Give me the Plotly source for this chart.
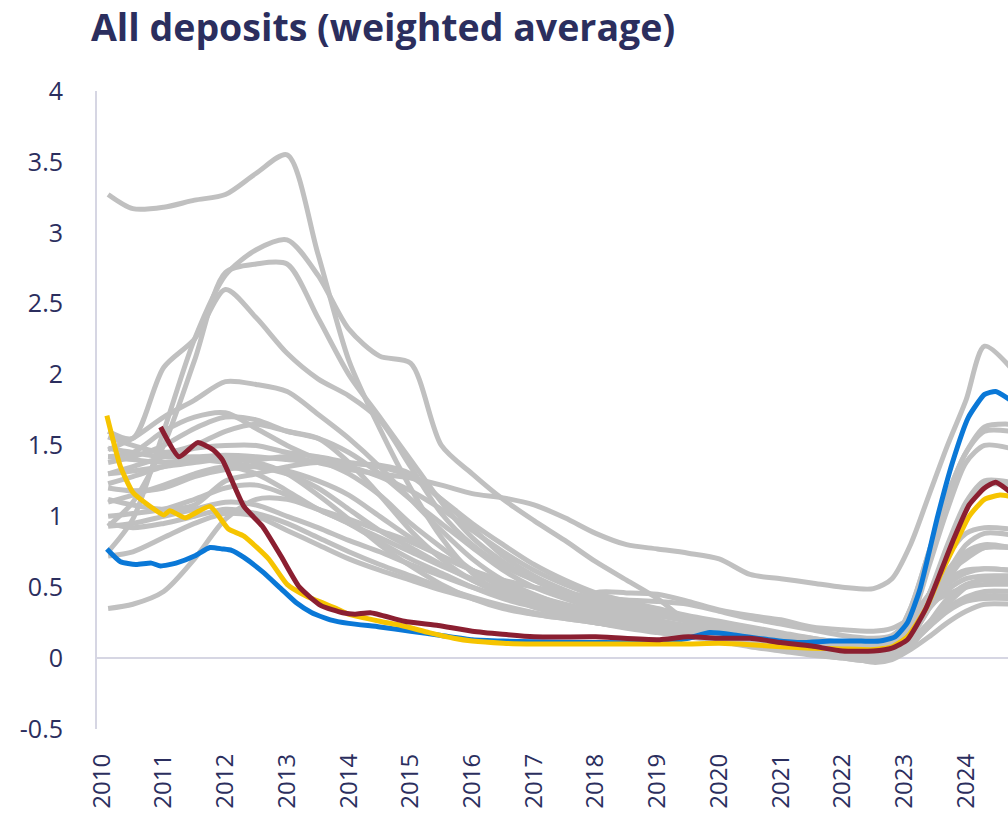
import plotly.graph_objects as go

# Time grid (decimal years) for the grey peer series
T_GREY = [2010.1, 2010.5, 2011.0, 2011.5, 2012.0, 2012.5, 2013.0, 2013.5, 2014.0, 2014.5,
          2015.0, 2015.5, 2016.0, 2016.5, 2017.0, 2017.5, 2018.0, 2018.5, 2019.0, 2019.5,
          2020.0, 2020.5, 2021.0, 2021.5, 2022.0, 2022.5, 2022.8, 2023.1, 2023.4, 2023.7,
          2024.0, 2024.3, 2024.72]

GREY_SERIES = [
    [3.27, 3.17, 3.18, 3.23, 3.27, 3.42, 3.55, 2.85, 2.1, 1.62, 1.2, 0.85, 0.6, 0.45, 0.36,
     0.3, 0.25, 0.21, 0.18, 0.15, 0.12, 0.09, 0.06, 0.03, 0.0, -0.02, 0.02, 0.12, 0.25, 0.38,
     0.5, 0.56, 0.55],
    [0.75, 0.98, 1.6, 2.25, 2.7, 2.88, 2.95, 2.7, 2.32, 2.13, 2.08, 1.5, 1.3, 1.12, 0.97,
     0.83, 0.68, 0.55, 0.42, 0.25, 0.13, 0.09, 0.07, 0.05, 0.03, 0.03, 0.07, 0.25, 0.65, 1.05,
     1.38, 1.5, 1.48],
    [0.93, 1.1, 1.5, 2.1, 2.72, 2.78, 2.78, 2.4, 2.0, 1.7, 1.4, 1.1, 0.85, 0.68, 0.55,
     0.45, 0.38, 0.32, 0.27, 0.22, 0.18, 0.14, 0.11, 0.08, 0.06, 0.05, 0.07, 0.18, 0.4, 0.62,
     0.75, 0.8, 0.78],
    [1.6, 1.55, 2.05, 2.25, 2.6, 2.4, 2.15, 1.97, 1.85, 1.68, 1.35, 1.02, 0.8, 0.65, 0.55,
     0.47, 0.41, 0.36, 0.31, 0.26, 0.21, 0.17, 0.13, 0.1, 0.07, 0.06, 0.1, 0.35, 0.75, 1.15,
     1.45, 1.6, 1.6],
    [1.47, 1.55, 1.7, 1.82, 1.95, 1.93, 1.88, 1.72, 1.55, 1.35, 1.12, 0.9, 0.7, 0.55, 0.45,
     0.37, 0.31, 0.27, 0.23, 0.2, 0.16, 0.13, 0.1, 0.07, 0.05, 0.04, 0.07, 0.2, 0.45, 0.75,
     1.05, 1.22, 1.22],
    [1.42, 1.45, 1.6, 1.7, 1.73, 1.62, 1.5, 1.4, 1.3, 1.15, 0.95, 0.78, 0.62, 0.5, 0.42,
     0.35, 0.3, 0.26, 0.22, 0.18, 0.14, 0.1, 0.07, 0.05, 0.03, 0.02, 0.05, 0.15, 0.35, 0.6,
     0.8, 0.88, 0.87],
    [1.38, 1.42, 1.5, 1.62, 1.7, 1.68, 1.6, 1.55, 1.45, 1.3, 1.12, 0.95, 0.78, 0.62, 0.5,
     0.42, 0.35, 0.3, 0.25, 0.21, 0.17, 0.13, 0.1, 0.07, 0.05, 0.03, 0.06, 0.2, 0.45, 0.72,
     0.88, 0.92, 0.91],
    [1.42, 1.4, 1.38, 1.4, 1.42, 1.4, 1.42, 1.38, 1.33, 1.3, 1.27, 1.22, 1.16, 1.13, 1.08,
     0.99, 0.88, 0.8, 0.77, 0.74, 0.7, 0.59, 0.56, 0.53, 0.5, 0.49, 0.56, 0.8, 1.15, 1.5,
     1.82, 2.2, 2.05],
    [1.3, 1.35, 1.42, 1.48, 1.5, 1.5, 1.45, 1.42, 1.38, 1.35, 1.28, 1.12, 0.95, 0.8, 0.66,
     0.55, 0.46, 0.4, 0.35, 0.3, 0.26, 0.22, 0.18, 0.14, 0.11, 0.1, 0.13, 0.25, 0.42, 0.55,
     0.62, 0.63, 0.62],
    [1.23, 1.28, 1.35, 1.4, 1.38, 1.35, 1.3, 1.2, 1.05, 0.9, 0.78, 0.66, 0.55, 0.46, 0.4,
     0.35, 0.3, 0.26, 0.22, 0.18, 0.14, 0.1, 0.07, 0.04, 0.01, -0.02, 0.0, 0.08, 0.25, 0.42,
     0.52, 0.55, 0.54],
    [1.1, 1.15, 1.22, 1.3, 1.35, 1.3, 1.18, 1.05, 0.95, 0.82, 0.7, 0.6, 0.5, 0.42, 0.36,
     0.3, 0.25, 0.22, 0.19, 0.16, 0.12, 0.08, 0.05, 0.02, 0.0, -0.02, 0.01, 0.1, 0.22, 0.35,
     0.43, 0.47, 0.47],
    [1.0, 1.02, 1.05, 1.12, 1.2, 1.22, 1.15, 1.05, 0.95, 0.85, 0.75, 0.65, 0.56, 0.48, 0.42,
     0.36, 0.31, 0.27, 0.23, 0.19, 0.15, 0.11, 0.08, 0.05, 0.02, 0.0, 0.03, 0.12, 0.25, 0.35,
     0.42, 0.44, 0.44],
    [0.93, 0.95, 1.0, 1.05, 1.1, 1.08, 1.0, 0.92, 0.83, 0.75, 0.66, 0.58, 0.5, 0.43, 0.37,
     0.31, 0.27, 0.24, 0.21, 0.18, 0.15, 0.12, 0.09, 0.06, 0.03, 0.01, 0.04, 0.15, 0.35, 0.55,
     0.72, 0.78, 0.78],
    [0.72, 0.75, 0.85, 0.95, 1.02, 1.0, 0.9, 0.8, 0.7, 0.62, 0.55, 0.48, 0.42, 0.36, 0.31,
     0.28, 0.25, 0.22, 0.2, 0.17, 0.14, 0.11, 0.08, 0.05, 0.02, -0.03, -0.01, 0.06, 0.15, 0.25,
     0.33, 0.38, 0.38],
    [0.35, 0.38, 0.47, 0.7, 0.98, 1.12, 1.12, 1.05, 0.98, 0.9, 0.82, 0.72, 0.62, 0.52, 0.44,
     0.38, 0.33, 0.29, 0.26, 0.23, 0.2, 0.17, 0.14, 0.11, 0.08, 0.06, 0.08, 0.18, 0.35, 0.48,
     0.56, 0.58, 0.58],
    [1.3, 1.32, 1.35, 1.38, 1.4, 1.38, 1.3, 1.15, 0.98, 0.8, 0.65, 0.52, 0.42, 0.35, 0.31,
     0.29, 0.46, 0.46, 0.45, 0.4, 0.34, 0.3, 0.27, 0.22, 0.2, 0.19, 0.21, 0.28, 0.38, 0.45,
     0.5, 0.52, 0.52],
    [1.56, 1.5, 1.45, 1.5, 1.6, 1.65, 1.6, 1.55, 1.38, 1.15, 0.9, 0.7, 0.55, 0.45, 0.38,
     0.32, 0.27, 0.23, 0.2, 0.17, 0.14, 0.1, 0.07, 0.04, 0.02, 0.0, 0.04, 0.18, 0.45, 0.8,
     1.1, 1.25, 1.24],
    [1.48, 1.45, 1.42, 1.42, 1.43, 1.42, 1.4, 1.38, 1.37, 1.36, 1.3, 1.12, 0.92, 0.72, 0.58,
     0.48, 0.4, 0.35, 0.3, 0.26, 0.22, 0.19, 0.16, 0.13, 0.1, 0.09, 0.12, 0.35, 0.75, 1.15,
     1.45, 1.63, 1.65],
    [0.95, 0.92, 0.95, 1.0, 1.05, 1.02, 0.95, 0.85, 0.75, 0.66, 0.58, 0.5, 0.43, 0.37, 0.32,
     0.28, 0.25, 0.22, 0.19, 0.17, 0.14, 0.11, 0.08, 0.05, 0.02, 0.0, 0.02, 0.1, 0.22, 0.33,
     0.4, 0.42, 0.42],
    [1.12, 1.08, 1.05, 1.08, 1.25, 1.3, 1.35, 1.38, 1.35, 1.28, 1.18, 1.05, 0.9, 0.75, 0.62,
     0.52, 0.44, 0.38, 0.33, 0.28, 0.24, 0.2, 0.17, 0.14, 0.11, 0.1, 0.13, 0.25, 0.4, 0.52,
     0.6, 0.63, 0.62],
    [1.2, 1.18, 1.2, 1.28, 1.33, 1.35, 1.32, 1.25, 1.15, 1.0, 0.85, 0.72, 0.62, 0.55, 0.5,
     0.46, 0.43, 0.41, 0.4, 0.38, 0.33, 0.28, 0.24, 0.2, 0.16, 0.14, 0.16, 0.28, 0.45, 0.6,
     0.7, 0.78, 0.78],
]

BLUE_T = [2010.08, 2010.3, 2010.55, 2010.8, 2010.95, 2011.2, 2011.5, 2011.75, 2011.95, 2012.1,
          2012.3, 2012.6, 2012.9, 2013.15, 2013.4, 2013.7, 2014.0, 2014.5, 2015.0, 2015.5,
          2016.0, 2016.5, 2017.0, 2018.0, 2019.0, 2019.5, 2019.85, 2020.3, 2020.8, 2021.3,
          2021.8, 2022.3, 2022.6, 2022.85, 2023.05, 2023.25, 2023.54, 2023.78, 2024.04, 2024.3,
          2024.48, 2024.72]
BLUE_V = [0.77, 0.68, 0.66, 0.67, 0.65, 0.67, 0.72, 0.78, 0.77, 0.76,
          0.71, 0.61, 0.49, 0.39, 0.32, 0.27, 0.245, 0.22, 0.19, 0.16,
          0.13, 0.12, 0.115, 0.11, 0.11, 0.14, 0.18, 0.16, 0.13, 0.11,
          0.12, 0.12, 0.12, 0.15, 0.25, 0.48, 1.0, 1.38, 1.7, 1.86,
          1.88, 1.82]

YELLOW_T = [2010.08, 2010.3, 2010.5, 2010.75, 2011.0, 2011.1, 2011.35, 2011.75, 2012.05, 2012.3,
            2012.7, 2013.0, 2013.3, 2013.8, 2014.0, 2014.5, 2014.85, 2015.3, 2015.7, 2016.0,
            2016.5, 2017.0, 2018.0, 2019.0, 2019.5, 2020.0, 2020.5, 2021.0, 2021.5, 2022.0,
            2022.5, 2022.8, 2023.05, 2023.35, 2023.6, 2023.8, 2024.05, 2024.3, 2024.55, 2024.72]
YELLOW_V = [1.71, 1.35, 1.17, 1.08, 1.01, 1.04, 0.99, 1.07, 0.91, 0.86,
            0.70, 0.52, 0.44, 0.35, 0.31, 0.26, 0.23, 0.18, 0.14, 0.12,
            0.105, 0.10, 0.10, 0.10, 0.10, 0.105, 0.095, 0.08, 0.07, 0.065,
            0.06, 0.08, 0.15, 0.35, 0.6, 0.78, 1.0, 1.12, 1.15, 1.14]

MAROON_T = [2010.95, 2011.25, 2011.55, 2011.8, 2011.95, 2012.3, 2012.6, 2012.9, 2013.2, 2013.55,
            2013.9, 2014.1, 2014.35, 2014.9, 2015.45, 2016.0, 2017.0, 2018.0, 2019.0, 2019.5,
            2020.0, 2020.5, 2021.0, 2021.5, 2022.0, 2022.5, 2022.8, 2023.05, 2023.35, 2023.6,
            2023.8, 2024.05, 2024.3, 2024.48, 2024.72]
MAROON_V = [1.63, 1.42, 1.52, 1.47, 1.40, 1.07, 0.93, 0.72, 0.50, 0.37,
            0.32, 0.31, 0.32, 0.26, 0.23, 0.19, 0.15, 0.15, 0.13, 0.15,
            0.14, 0.14, 0.11, 0.085, 0.05, 0.05, 0.07, 0.13, 0.35, 0.62,
            0.84, 1.08, 1.2, 1.24, 1.17]

YEARS = list(range(2010, 2025))
YEAR_LABELS = [str(y) for y in YEARS]

NAVY = '#2b2e5e'
AXIS_GREY = '#d6d6e3'

fig = go.Figure()

for vals in GREY_SERIES:
    fig.add_trace(go.Scatter(
        x=T_GREY, y=vals, mode='lines',
        line=dict(color='#c0c0c0', width=5, shape='spline', smoothing=0.8),
        hoverinfo='skip', showlegend=False,
    ))

for tx, vals, col in [(BLUE_T, BLUE_V, '#0a78d7'),
                      (YELLOW_T, YELLOW_V, '#f6c400'),
                      (MAROON_T, MAROON_V, '#8b1f31')]:
    fig.add_trace(go.Scatter(
        x=tx, y=vals, mode='lines',
        line=dict(color=col, width=5, shape='spline', smoothing=0.5),
        showlegend=False,
    ))

fig.update_layout(
    width=1008, height=815,
    margin=dict(l=97, r=0, t=91, b=86),
    plot_bgcolor='white', paper_bgcolor='white',
    font=dict(family='Open Sans', color=NAVY),
    title=dict(
        text='<b>All deposits (weighted average)</b>',
        font=dict(family='Open Sans', size=37.5, color=NAVY),
        x=91 / 1008, xanchor='left', xref='container',
        y=1 - 28 / 815, yanchor='middle', yref='container',
    ),
    xaxis=dict(
        range=[2009.92, 2024.68], automargin=False,
        tickvals=YEARS, ticktext=YEAR_LABELS, tickangle=-90,
        tickfont=dict(size=24, color=NAVY),
        showgrid=False, zeroline=False, showline=False, ticks='',
        ticklabelstandoff=19,
    ),
    yaxis=dict(
        range=[-0.5, 4], automargin=False,
        tickvals=[-0.5, 0, 0.5, 1, 1.5, 2, 2.5, 3, 3.5, 4],
        ticktext=['-0.5', '0', '0.5', '1', '1.5', '2', '2.5', '3', '3.5', '4'],
        tickfont=dict(size=25, color=NAVY),
        showgrid=False, ticks='',
        showline=True, linecolor=AXIS_GREY, linewidth=2,
        zeroline=True, zerolinecolor=AXIS_GREY, zerolinewidth=2,
        ticklabelstandoff=27,
    ),
)

# the page's default body margin would shift the figure by 8px
fig.write_html('out.html', config={'displayModeBar': False},
               post_script="document.body.style.margin = '0';")
